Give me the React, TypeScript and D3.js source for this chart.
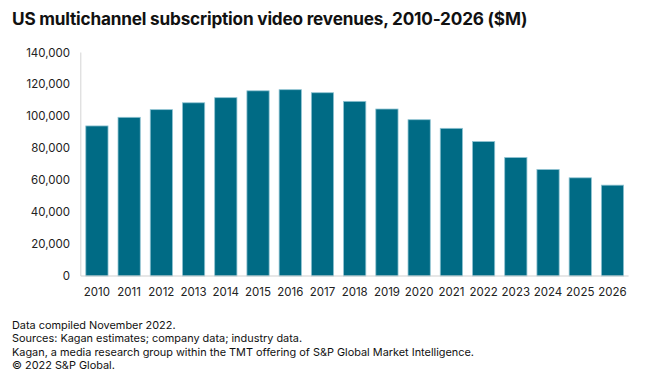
import React from "react";
import * as d3 from "d3";

const years = ["2010","2011","2012","2013","2014","2015","2016","2017","2018","2019","2020","2021","2022","2023","2024","2025","2026"];
const revenues = [94000, 99400, 104200, 108500, 111700, 116000, 116700, 114800, 109400, 104600, 97900, 92500, 84200, 74200, 66700, 61500, 56900];
const yTicks = [0, 20000, 40000, 60000, 80000, 100000, 120000, 140000];
const title = "US multichannel subscription video revenues, 2010-2026 ($M)";
const notes = [
  "Data compiled November 2022.",
  "Sources: Kagan estimates; company data; industry data.",
  "Kagan, a media research group within the TMT offering of S&P Global Market Intelligence.",
  "\u00A9 2022 S&P Global.",
];

export default function App() {
  const W = 660, H = 380;
  const left = 80.8, right = 628.6, top = 52.5, bottom = 276;
  const x = d3.scaleBand<string>().domain(years).range([left, right]).paddingInner(0.31).paddingOuter(0.155);
  const y = d3.scaleLinear().domain([0, 140000]).range([bottom, top]);
  const fmt = d3.format(",");
  const font = "Inter, 'Noto Sans', sans-serif";
  return (
    <svg width={W} height={H} style={{ position: "absolute", left: 0, top: 0, background: "#fff" }} fontFamily={font}>
      <text x={12} y={25} fontSize={17.2} fontWeight={700} fill="#111" letterSpacing={-0.2}>{title}</text>
      {yTicks.map((t) => (
        <text key={t} x={70} y={y(t)} dy="0.35em" textAnchor="end" fontSize={11.5} fill="#222">{fmt(t)}</text>
      ))}
      {years.map((yr, i) => (
        <rect key={yr} x={x(yr)!} y={y(revenues[i])} width={x.bandwidth()} height={bottom - y(revenues[i])}
          fill="#006b85" stroke="#8fc3d2" strokeWidth={0.8} />
      ))}
      <line x1={left} x2={left} y1={top} y2={bottom} stroke="#d4d4d4" strokeWidth={1} />
      <line x1={left} x2={right} y1={bottom} y2={bottom} stroke="#cfcfcf" strokeWidth={1.2} />
      {years.map((yr) => (
        <text key={yr} x={x(yr)! + x.bandwidth() / 2} y={292} dy="0.35em" textAnchor="middle" fontSize={11.5} fill="#222">{yr}</text>
      ))}
      {notes.map((n, i) => (
        <text key={i} x={12} y={329 + i * 13.4} fontSize={10.9} fill="#111">{n}</text>
      ))}
    </svg>
  );
}
